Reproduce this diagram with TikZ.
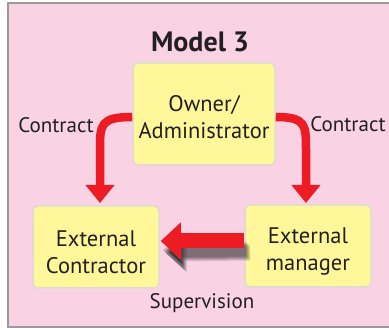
\documentclass[tikz,border=0pt]{standalone}
\usepackage{fontspec}
\setmainfont{PT Sans}
\usetikzlibrary{arrows.meta}
\definecolor{bgpink}{HTML}{F9D2E4}
\definecolor{frameg}{HTML}{9A9A9A}
\definecolor{boxy}{HTML}{FFF799}
\definecolor{boxb}{HTML}{DCDCD2}
\definecolor{arrred}{HTML}{ED1C24}
\definecolor{txt}{HTML}{231F20}
\tikzset{
  box/.style={draw=boxb, line width=1.5pt, fill=boxy, rounded corners=5pt,
    align=center, text=txt, font=\fontsize{22.5}{27}\selectfont, inner sep=0pt},
  lbl/.style={text=txt, font=\fontsize{21}{24}\selectfont, inner sep=0pt},
  redarrow/.style={draw=arrred, line width=8.5pt, -{Triangle[width=28pt,length=18pt]}},
  bigarrow/.style={draw=arrred, line width=15pt, -{Triangle[width=36pt,length=20pt]}},
  shadowarrow/.style={draw=black, opacity=0.12, line width=15pt, -{Triangle[width=36pt,length=20pt]}}
}
\begin{document}
\begin{tikzpicture}[x=1pt,y=-1pt]
\useasboundingbox (0,0) rectangle (389,328);
\draw[draw=frameg, line width=2pt, fill=bgpink] (8,3) rectangle (396,327);
\node[text=txt, font=\fontsize{28}{32}\selectfont\bfseries, inner sep=0pt] (title) at (200,42) {Model 3};
\node[box, minimum width=142pt, minimum height=102pt] (owner) at (204,114) {\rule{0pt}{22pt}Owner/\\Administrator};
\node[box, minimum width=126pt, minimum height=82pt] (contractor) at (96,247) {\rule{0pt}{26pt}External\\Contractor};
\node[box, minimum width=126pt, minimum height=82pt] (manager) at (308,246) {\rule{0pt}{26pt}External\\manager};
\node[lbl] (c1) at (56,125) {Contract};
\node[lbl] (c2) at (348,124) {Contract};
\node[lbl] (sup) at (202,303) {Supervision};
\coordinate (lt) at (100,203);
\coordinate (rt) at (306,203);
\draw[redarrow] ([yshift=-3pt]owner.west) .. controls (100,117) and (100,125) .. (100,150) -- (lt);
\draw[redarrow] ([yshift=-3pt]owner.east) .. controls (306,117) and (306,125) .. (306,150) -- (rt);
\foreach \d in {2,3,4,5,6}{
  \draw[shadowarrow] ([xshift=\d pt, yshift=-\d pt-1pt]manager.west) -- ([xshift=1pt+\d pt, yshift=-\d pt-1pt]contractor.east);
}
\draw[bigarrow] ([yshift=5pt]manager.west) -- ([xshift=1pt,yshift=6pt]contractor.east);
\end{tikzpicture}
\end{document}
